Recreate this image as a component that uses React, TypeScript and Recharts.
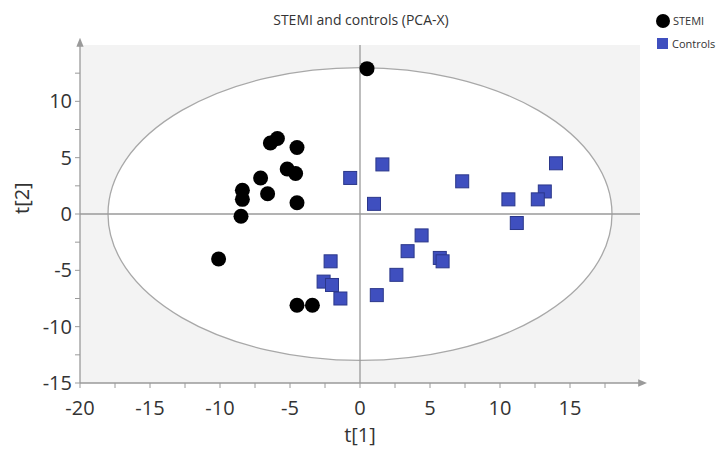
import React from "react";
import {
  ScatterChart,
  Scatter,
  XAxis,
  YAxis,
  ReferenceArea,
  ReferenceLine,
} from "recharts";

// score plot data: t[1] / t[2] per observation
const stemiT1 = [0.5, -6.4, -5.9, -4.5, -7.1, -5.2, -4.6, -6.6, -4.5, -8.4, -8.4, -8.5, -10.1, -4.5, -3.4];
const stemiT2 = [12.9, 6.3, 6.7, 5.9, 3.2, 4.0, 3.6, 1.8, 1.0, 2.1, 1.3, -0.2, -4.0, -8.1, -8.1];

const controlT1 = [-0.7, 1.6, 1.0, 7.3, 14.0, 13.2, 12.7, 10.6, 11.2, 4.4, 3.4, 5.7, 5.9, 2.6, 1.2, -2.1, -2.6, -2.0, -1.4];
const controlT2 = [3.2, 4.4, 0.9, 2.9, 4.5, 2.0, 1.3, 1.3, -0.8, -1.9, -3.3, -3.9, -4.2, -5.4, -7.2, -4.2, -6.0, -6.3, -7.5];

const xTicks = [-20, -17.5, -15, -12.5, -10, -7.5, -5, -2.5, 0, 2.5, 5, 7.5, 10, 12.5, 15, 17.5];
const yTicks = [-15, -12.5, -10, -7.5, -5, -2.5, 0, 2.5, 5, 7.5, 10, 12.5];

// Hotelling T2 ellipse half-axes
const ellipseT1 = 18;
const ellipseT2 = 13;

const stemi = stemiT1.map((x, i) => ({ x, y: stemiT2[i] }));
const controls = controlT1.map((x, i) => ({ x, y: controlT2[i] }));

const FONT = "'Open Sans', 'Noto Sans', sans-serif";
const AXIS = "#9a9a9a";
const BLUE = "#3f4fbf";

const isMajor = (v: number) => v % 5 === 0;

const XTick = (props: any) => {
  const { x, y, payload } = props;
  if (!isMajor(payload.value)) return null;
  return (
    <text x={x} y={y} dy={27} textAnchor="middle" fontSize={20} fill="#333" fontFamily={FONT}>
      {payload.value}
    </text>
  );
};

const YTick = (props: any) => {
  const { x, y, payload } = props;
  if (!isMajor(payload.value)) return null;
  return (
    <text x={x} y={y} dx={-3} dy={7} textAnchor="end" fontSize={20} fill="#333" fontFamily={FONT}>
      {payload.value}
    </text>
  );
};

const Dot = (props: any) => <circle cx={props.cx} cy={props.cy} r={7.5} fill="#000" />;

const Box = (props: any) => (
  <rect x={props.cx - 6.5} y={props.cy - 6.5} width={13} height={13} fill={BLUE} stroke="#2b378a" strokeWidth={1} />
);

const EllipseShape = (props: any) => {
  const { x, y, width, height } = props;
  return (
    <ellipse
      cx={x + width / 2}
      cy={y + height / 2}
      rx={Math.abs(width) / 2}
      ry={Math.abs(height) / 2}
      fill="#fff"
      stroke="#a8a8a8"
      strokeWidth={1.3}
    />
  );
};

export default function App() {
  return (
    <div style={{ position: "absolute", left: 0, top: 0, width: 723, height: 452, background: "#fff", fontFamily: FONT }}>
      <ScatterChart width={723} height={452} margin={{ top: 45, right: 83, bottom: 0, left: 0 }}>
        <defs>
          <marker id="arrow" viewBox="0 0 10 10" refX="2" refY="5" markerWidth="7" markerHeight="7" orient="auto-start-reverse">
            <path d="M0,1 L10,5 L0,9 z" fill={AXIS} />
          </marker>
        </defs>
        <ReferenceArea x1={-20} x2={20} y1={-15} y2={15} fill="#f3f3f3" fillOpacity={1} stroke="none" />
        <ReferenceArea
          x1={-ellipseT1}
          x2={ellipseT1}
          y1={-ellipseT2}
          y2={ellipseT2}
          shape={EllipseShape}
        />
        <ReferenceLine x={0} stroke={AXIS} strokeWidth={1.3} />
        <ReferenceLine y={0} stroke={AXIS} strokeWidth={1.3} />
        <XAxis
          type="number"
          dataKey="x"
          domain={[-20, 20]}
          ticks={xTicks}
          interval={0}
          height={69}
          tickSize={5}
          tickMargin={0}
          tickLine={{ stroke: AXIS }}
          axisLine={{ stroke: AXIS, strokeWidth: 1.3, markerEnd: "url(#arrow)" }}
          tick={<XTick />}
          allowDataOverflow
          label={{ value: "t[1]", position: "insideBottom", offset: 10, fontSize: 20, fill: "#333", fontFamily: FONT }}
        />
        <YAxis
          type="number"
          dataKey="y"
          domain={[-15, 15]}
          ticks={yTicks}
          interval={0}
          width={80}
          tickSize={5}
          tickMargin={0}
          tickLine={{ stroke: AXIS }}
          axisLine={{ stroke: AXIS, strokeWidth: 1.3, markerStart: "url(#arrow)" }}
          tick={<YTick />}
          allowDataOverflow
          label={{ value: "t[2]", angle: -90, position: "insideLeft", offset: 22, fontSize: 20, fill: "#333", fontFamily: FONT }}
        />
        <Scatter name="Controls" data={controls} shape={Box} isAnimationActive={false} />
        <Scatter name="STEMI" data={stemi} shape={Dot} isAnimationActive={false} />
        <text x={361} y={25} textAnchor="middle" fontSize={14} fill="#333" fontFamily={FONT}>
          STEMI and controls (PCA-X)
        </text>
        <g fontFamily={FONT} fontSize={11} fill="#333">
          <circle cx={663} cy={21} r={7} fill="#000" />
          <text x={673} y={25}>STEMI</text>
          <rect x={657} y={38} width={11} height={11} fill={BLUE} />
          <text x={672} y={48}>Controls</text>
        </g>
      </ScatterChart>
    </div>
  );
}
